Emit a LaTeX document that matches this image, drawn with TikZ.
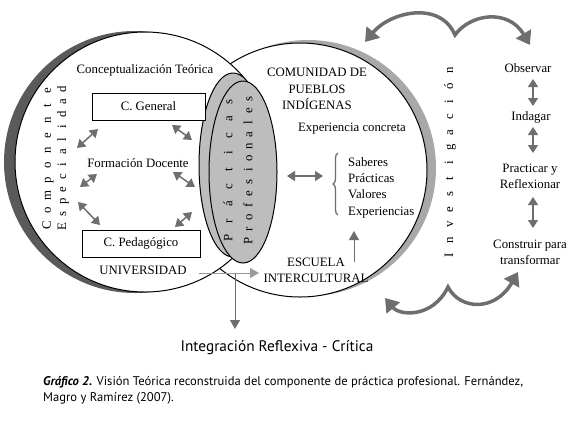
\documentclass[tikz,border=0pt]{standalone}
\usepackage{fontspec}
\setmainfont{Liberation Serif}
\newfontfamily\capfont{PT Sans}
\usetikzlibrary{arrows.meta,decorations.pathreplacing}
\makeatletter
\newcommand\spreadword[2]{\@tfor\sw@c:=#2\do{\makebox[#1]{\sw@c}}}
\makeatother
\definecolor{arrowgray}{HTML}{6E6E6E}
\definecolor{darkshadow}{HTML}{5A5A5A}
\definecolor{lightshadow}{HTML}{A8A8A8}
\definecolor{ellgray}{HTML}{BDBDBD}
\definecolor{linegray}{HTML}{9A9A9A}
\begin{document}
\begin{tikzpicture}[x=1pt,y=-1pt,
  txt/.style={font=\fontsize{12.8}{16.3}\selectfont, inner sep=0pt, align=center},
  vtxt/.style={txt, rotate=90},
  boxnode/.style={txt, draw, line width=0.8pt, fill=white},
  dbl/.style={draw=arrowgray, line width=1.5pt, {Triangle[length=8pt,width=10pt]}-{Triangle[length=8pt,width=10pt]}},
  thinarrow/.style={draw=#1, line width=1pt, -{Triangle[length=9pt,width=10pt]}},
  curvy/.style={draw=arrowgray, line width=3.5pt, {Triangle[length=13pt,width=17pt]}-{Triangle[length=13pt,width=17pt]}}
]
\useasboundingbox (0,0) rectangle (580,424);
% right circle with light shadow
\fill[lightshadow] (308,168) circle[radius=128];
\fill[white] (300,170) circle[radius=127];
\draw[line width=1pt] (300,170) circle[radius=127];
% left circle with dark shadow
\fill[darkshadow] (135,162) circle[radius=131];
\fill[white] (145,162) circle[radius=130];
\draw[line width=1pt] (145,162) circle[radius=130];
% ellipses
\draw[fill=ellgray, line width=1pt] (233,165) ellipse[x radius=34, y radius=92];
\draw[fill=ellgray, line width=1pt] (243,172) ellipse[x radius=34, y radius=91];
\node[vtxt] (practicas) at (228,170) {\spreadword{17pt}{Prácticas}};
\node[vtxt] (profesionales) at (248,170) {\spreadword{11.8pt}{Profesionales}};
% left circle texts
\node[txt] (concept) at (145,70) {Conceptualización Teórica};
\node[boxnode, minimum width=113pt, minimum height=27pt] (cgen) at (148.5,106.5) {C. General};
\node[boxnode, minimum width=118pt, minimum height=27pt] (cped) at (141,243.5) {C. Pedagógico};
\node[txt] (formacion) at (138,163) {Formación Docente};
\node[txt] (universidad) at (143,270) {UNIVERSIDAD};
\node[vtxt] (componente) at (48,158) {\spreadword{15pt}{Componente}};
\node[vtxt] (especialidad) at (63,158) {\spreadword{12.5pt}{Especialidad}};
% left double arrows
\coordinate (a1s) at (77,148); \coordinate (a1e) at (98,129);
\coordinate (a2s) at (80,187); \coordinate (a2e) at (97,174);
\coordinate (a3s) at (78,202); \coordinate (a3e) at (100,225);
\coordinate (a4s) at (172,125); \coordinate (a4e) at (192,140);
\coordinate (a5s) at (173,172); \coordinate (a5e) at (195,187);
\coordinate (a6s) at (175,227); \coordinate (a6e) at (192,212);
\draw[dbl] (a1s) -- (a1e);
\draw[dbl] (a2s) -- (a2e);
\draw[dbl] (a3s) -- (a3e);
\draw[dbl] (a4s) -- (a4e);
\draw[dbl] (a5s) -- (a5e);
\draw[dbl] (a6s) -- (a6e);
% right circle texts
\node[txt] (comunidad) at (317,89) {COMUNIDAD DE\\PUEBLOS\\INDÍGENAS};
\node[txt] (experiencia) at (352,129) {Experiencia concreta};
\node[txt, align=left, anchor=west] (saberes) at (348,187.5) {Saberes\\Prácticas\\Valores\\Experiencias};
\node[txt] (escuela) at (316,270) {ESCUELA\\INTERCULTURAL};
\coordinate (hl) at (287,176); \coordinate (hr) at (323,176);
\draw[dbl] (hl) -- (hr);
\coordinate (braceb) at (338,215); \coordinate (bracet) at (338,153);
\draw[draw=arrowgray, line width=1.3pt, decorate, decoration={brace, amplitude=5pt}] (braceb) -- (bracet);
\coordinate (upb) at (354,262); \coordinate (upt) at (354,231);
\draw[thinarrow=arrowgray] (upb) -- (upt);
% universidad arrows
\coordinate (ustart) at (199,273); \coordinate (uend) at (259,273);
\coordinate (ujoin) at (235,273); \coordinate (udown) at (235,329);
\draw[thinarrow=linegray] (ustart) -- (uend);
\draw[thinarrow=arrowgray] (ujoin) -- (udown);
% investigacion column
\node[vtxt] (investigacion) at (450,163) {\spreadword{15.4pt}{Investigación}};
\node[txt] (observar) at (528,68) {Observar};
\node[txt] (indagar) at (531,117) {Indagar};
\node[txt] (practicar) at (530,176.5) {Practicar y\\Reflexionar};
\node[txt] (construir) at (530,252) {Construir para\\transformar};
\coordinate (o1) at (533,79); \coordinate (o2) at (533,106);
\coordinate (i1) at (533,127); \coordinate (i2) at (533,153);
\coordinate (p1) at (533,197); \coordinate (p2) at (533,228);
\draw[dbl] (o1) -- (o2);
\draw[dbl] (i1) -- (i2);
\draw[dbl] (p1) -- (p2);
% curvy arrows
\draw[curvy] (365,42) .. controls (390,12) and (440,0) .. (455,35) .. controls (470,14) and (508,8) .. (530,45);
\draw[curvy] (385,298) .. controls (400,316) and (433,318) .. (448,287) .. controls (460,310) and (495,312) .. (518,272);
% bottom texts
\node[inner sep=0pt, font=\capfont\fontsize{15.3}{17}\selectfont] (integracion) at (277,348) {Integración Reflexiva - Crítica};
\node[inner sep=0pt, anchor=west, align=left, font=\capfont\fontsize{12.6}{16.3}\selectfont] (caption) at (43,390) {\textbf{\textit{Gráfico 2.}} Visión Teórica reconstruida del componente de práctica profesional. Fernández,\\Magro y Ramírez (2007).};
\end{tikzpicture}
\end{document}
